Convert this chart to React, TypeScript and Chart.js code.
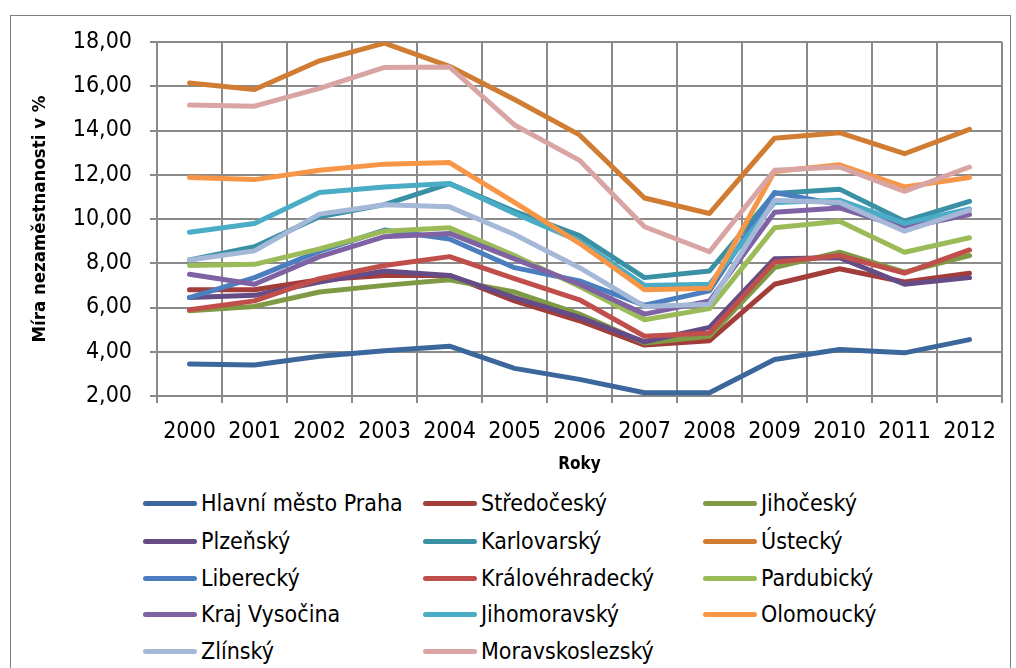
import React, { useEffect, useRef } from "react";
import { Chart, registerables } from "chart.js";

Chart.register(...registerables);

const years = ["2000", "2001", "2002", "2003", "2004", "2005", "2006", "2007", "2008", "2009", "2010", "2011", "2012"];

const seriesNames = [
  "Hlavní město Praha",
  "Středočeský",
  "Jihočeský",
  "Plzeňský",
  "Karlovarský",
  "Ústecký",
  "Liberecký",
  "Královéhradecký",
  "Pardubický",
  "Kraj Vysočina",
  "Jihomoravský",
  "Olomoucký",
  "Zlínský",
  "Moravskoslezský",
];

const seriesColors = [
  "#3B679D",
  "#A23D3A",
  "#7F9A44",
  "#664C86",
  "#3A91A6",
  "#D07C32",
  "#4A7EBF",
  "#C04F4C",
  "#9BBB59",
  "#7F62A3",
  "#4BACC6",
  "#F79646",
  "#A5B8D8",
  "#D8A5A4",
];

const praha = [3.45, 3.4, 3.8, 4.05, 4.25, 3.25, 2.75, 2.15, 2.15, 3.65, 4.1, 3.95, 4.55];
const stredocesky = [6.8, 6.8, 7.25, 7.45, 7.45, 6.3, 5.4, 4.3, 4.5, 7.05, 7.75, 7.15, 7.55];
const jihocesky = [5.85, 6.05, 6.7, 7.0, 7.25, 6.7, 5.7, 4.4, 4.7, 7.8, 8.5, 7.6, 8.35];
const plzensky = [6.45, 6.55, 7.15, 7.65, 7.45, 6.45, 5.55, 4.45, 5.1, 8.2, 8.25, 7.05, 7.35];
const karlovarsky = [8.15, 8.75, 10.1, 10.65, 11.6, 10.35, 9.25, 7.35, 7.65, 11.15, 11.35, 9.9, 10.8];
const ustecky = [16.15, 15.85, 17.15, 17.95, 16.9, 15.4, 13.8, 10.95, 10.25, 13.65, 13.9, 12.95, 14.05];
const liberecky = [6.45, 7.35, 8.55, 9.5, 9.1, 7.8, 7.2, 6.1, 6.75, 11.2, 10.65, 9.7, 10.4];
const kralovehradecky = [5.9, 6.3, 7.3, 7.9, 8.3, 7.3, 6.35, 4.7, 4.85, 8.05, 8.35, 7.55, 8.6];
const pardubicky = [7.9, 7.95, 8.65, 9.45, 9.6, 8.35, 6.95, 5.45, 5.95, 9.6, 9.9, 8.5, 9.15];
const vysocina = [7.5, 7.05, 8.3, 9.2, 9.35, 8.2, 7.05, 5.7, 6.3, 10.3, 10.5, 9.6, 10.2];
const jihomoravsky = [9.4, 9.8, 11.2, 11.45, 11.6, 10.25, 9.0, 7.0, 7.05, 10.75, 10.85, 9.8, 10.45];
const olomoucky = [11.88, 11.78, 12.2, 12.48, 12.55, 10.75, 8.9, 6.8, 6.87, 12.15, 12.45, 11.45, 11.88];
const zlinsky = [8.15, 8.56, 10.22, 10.64, 10.55, 9.3, 7.8, 6.05, 6.15, 10.85, 10.75, 9.45, 10.4];
const moravskoslezsky = [15.15, 15.1, 15.9, 16.85, 16.87, 14.25, 12.65, 9.65, 8.52, 12.2, 12.35, 11.25, 12.35];

const seriesValues = [
  praha,
  stredocesky,
  jihocesky,
  plzensky,
  karlovarsky,
  ustecky,
  liberecky,
  kralovehradecky,
  pardubicky,
  vysocina,
  jihomoravsky,
  olomoucky,
  zlinsky,
  moravskoslezsky,
];

const yMin = 2;
const yMax = 18;
const yStep = 2;

const FONT = "'DejaVu Sans Condensed', 'DejaVu Sans', sans-serif";
const GRID = "#8a8a8a";

export default function App() {
  const canvasRef = useRef<HTMLCanvasElement>(null);

  useEffect(() => {
    const n = seriesValues.length;
    const chart = new Chart(canvasRef.current as HTMLCanvasElement, {
      type: "line",
      data: {
        labels: years,
        datasets: seriesValues.map((vals, i) => ({
          label: seriesNames[i],
          data: vals,
          borderColor: seriesColors[i],
          backgroundColor: seriesColors[i],
          borderWidth: 5,
          pointRadius: 0,
          pointHoverRadius: 0,
          tension: 0,
          borderCapStyle: "round" as const,
          borderJoinStyle: "round" as const,
          fill: false,
          order: n - i,
        })),
      },
      options: {
        responsive: false,
        animation: false,
        layout: { padding: { left: 0, top: 42, right: 14, bottom: 0 } },
        plugins: {
          legend: { display: false },
          tooltip: { enabled: false },
        },
        scales: {
          x: {
            type: "category",
            offset: true,
            grid: {
              offset: true,
              color: GRID,
              lineWidth: 2,
              drawTicks: true,
              tickLength: 7,
            },
            border: { color: GRID, width: 2 },
            ticks: {
              color: "#000",
              font: { family: FONT, size: 23 },
              padding: 15,
              maxRotation: 0,
              autoSkip: false,
            },
            title: {
              display: true,
              text: "Roky",
              color: "#000",
              font: { family: FONT, size: 17, weight: "bold" },
              padding: { top: 0, bottom: 5 },
            },
            afterFit: (scale: any) => {
              scale.height = 84;
            },
          },
          y: {
            min: yMin,
            max: yMax,
            ticks: {
              stepSize: yStep,
              color: "#000",
              font: { family: FONT, size: 23 },
              padding: 18,
              callback: (v: any) => Number(v).toFixed(2).replace(".", ","),
            },
            grid: {
              color: GRID,
              lineWidth: 2,
              drawTicks: true,
              tickLength: 7,
            },
            border: { color: GRID, width: 2 },
            title: {
              display: true,
              text: "Míra nezaměstnanosti v %",
              color: "#000",
              font: { family: FONT, size: 18.5, weight: "bold" },
              padding: { top: 29, bottom: 0 },
            },
            afterFit: (scale: any) => {
              scale.width = 157;
            },
          },
        },
      },
    });
    return () => chart.destroy();
  }, []);

  const rowY = [503, 541, 578, 614, 651];

  return (
    <div
      style={{
        position: "fixed",
        left: 0,
        top: 0,
        width: 1016,
        height: 668,
        background: "#fff",
        overflow: "hidden",
      }}
    >
      <div
        style={{
          position: "absolute",
          left: 10,
          top: 15,
          width: 1001,
          height: 720,
          border: "1px solid #7f7f7f",
          boxSizing: "border-box",
        }}
      />
      <canvas
        ref={canvasRef}
        width={1016}
        height={480}
        style={{ position: "absolute", left: 0, top: 0, width: 1016, height: 480, display: "block" }}
      />
      {seriesNames.map((name, i) => {
        const col = i % 3;
        const row = Math.floor(i / 3);
        return (
          <div
            key={name}
            style={{
              position: "absolute",
              left: 143 + col * 280,
              top: rowY[row] - 16,
              height: 32,
              display: "flex",
              alignItems: "center",
              whiteSpace: "nowrap",
            }}
          >
            <span
              style={{
                display: "inline-block",
                width: 54,
                height: 5,
                borderRadius: 3,
                background: seriesColors[i],
                marginRight: 4,
              }}
            />
            <span style={{ fontFamily: FONT, fontSize: 23, color: "#000", lineHeight: "32px" }}>{name}</span>
          </div>
        );
      })}
    </div>
  );
}
